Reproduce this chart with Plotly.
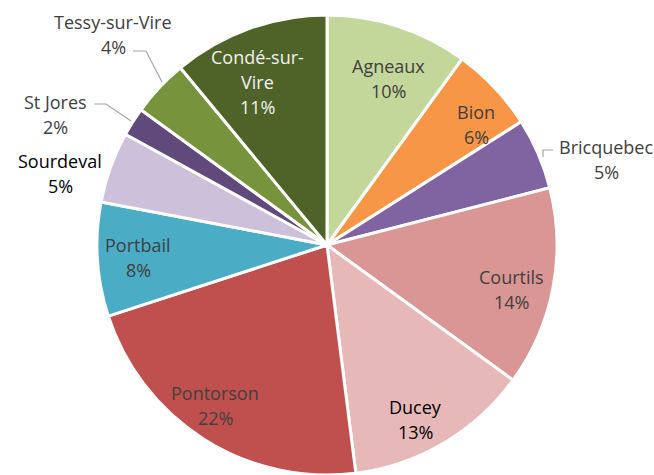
import plotly.graph_objects as go

labels = ["Agneaux", "Bion", "Bricquebec", "Courtils", "Ducey", "Pontorson",
          "Portbail", "Sourdeval", "St Jores", "Tessy-sur-Vire", "Condé-sur-Vire"]
values = [10, 6, 5, 14, 13, 22, 8, 5, 2, 4, 11]
colors = ["#C4D79B", "#F79646", "#8064A2", "#DA9694", "#E6B9B8", "#C0504D",
          "#4BACC6", "#CCC0DA", "#604A7B", "#77933C", "#4F6228"]
display_lines = {"Condé-sur-Vire": ["Condé-sur-", "Vire"]}
text_colors = {"Ducey": "#000000", "Sourdeval": "#000000", "Condé-sur-Vire": "#F2F2F2"}

W, H = 654, 475
CX, CY, R = 327, 245, 230  # pie centre and radius in pixels
LINE = 25  # label line spacing in pixels

# label placement: centre x and first-line centre y (pixels)
label_pos = {
    "Agneaux": (388, 64),
    "Bion": (476, 110),
    "Bricquebec": (606, 145),
    "Courtils": (511, 275),
    "Ducey": (415, 405),
    "Pontorson": (215, 391),
    "Portbail": (138, 243),
    "Sourdeval": (60, 159),
    "St Jores": (55, 100),
    "Tessy-sur-Vire": (113, 20),
    "Condé-sur-Vire": (257, 55),
}
leaders = {
    "Bricquebec": [(553, 150), (543, 150), (543, 157)],
    "St Jores": [(94, 104), (106, 104), (131, 121)],
    "Tessy-sur-Vire": [(133, 51), (146, 51), (162, 82)],
}

def px(x):
    return x / W

def py(y):
    return 1 - y / H

fig = go.Figure(go.Pie(
    labels=labels, values=values, sort=False, direction="clockwise", rotation=0,
    marker=dict(colors=colors, line=dict(color="white", width=3)),
    textinfo="none", showlegend=False,
    domain=dict(x=[px(CX - R), px(CX + R)], y=[py(CY + R), py(CY - R)]),
))

total = sum(values)
annotations = []
for lab, v in zip(labels, values):
    pct = round(v / total * 100)
    lines = display_lines.get(lab, [lab]) + [f"{pct}%"]
    color = text_colors.get(lab, "#404040")
    x, y0 = label_pos[lab]
    for i, line in enumerate(lines):
        annotations.append(dict(x=px(x), y=py(y0 + i * LINE + 2), xref="paper", yref="paper",
                                text=line, showarrow=False,
                                font=dict(family="Open Sans", size=18, color=color),
                                xanchor="center", yanchor="middle"))

shapes = []
for lab, pts in leaders.items():
    path = "M " + " L ".join(f"{px(x)},{py(y)}" for x, y in pts)
    shapes.append(dict(type="path", path=path, xref="paper", yref="paper",
                       line=dict(color="#A6A6A6", width=1.2)))

fig.update_layout(width=W, height=H, margin=dict(l=0, r=0, t=0, b=0),
                  paper_bgcolor="white", plot_bgcolor="white",
                  annotations=annotations, shapes=shapes)
fig.write_html("out.html", config={"displayModeBar": False},
               post_script="document.body.style.margin='0';document.body.style.overflow='hidden';")
